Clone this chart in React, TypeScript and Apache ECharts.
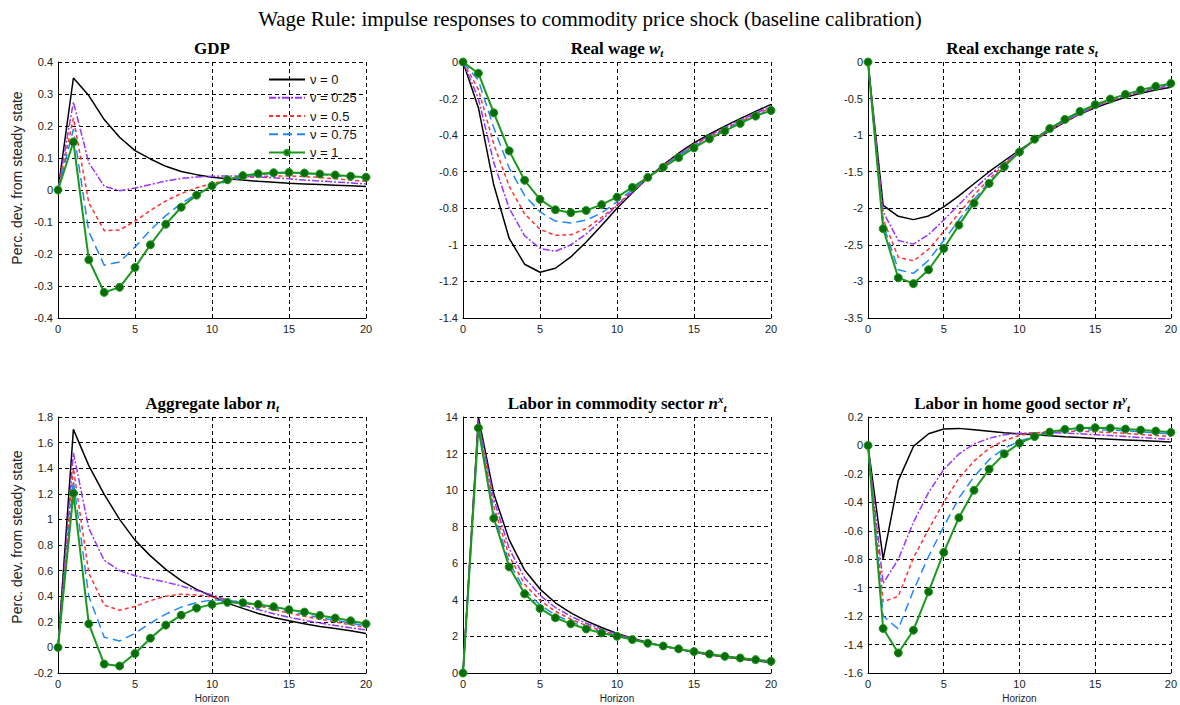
import React, { useEffect, useRef } from "react";
import * as echarts from "echarts";

const horizon = [0, 1, 2, 3, 4, 5, 6, 7, 8, 9, 10, 11, 12, 13, 14, 15, 16, 17, 18, 19, 20];
const nuLabels = ["ν = 0", "ν = 0.25", "ν = 0.5", "ν = 0.75", "ν = 1"];
const xTicks = { min: 0, max: 20, interval: 5 };

// GDP
const gdpNu0 = [0, 0.35, 0.295, 0.22, 0.165, 0.123, 0.097, 0.074, 0.058, 0.048, 0.04, 0.035, 0.031, 0.027, 0.024, 0.021, 0.019, 0.017, 0.015, 0.013, 0.011];
const gdpNu25 = [0, 0.275, 0.085, 0.012, -0.002, 0.006, 0.017, 0.028, 0.036, 0.041, 0.043, 0.044, 0.043, 0.041, 0.038, 0.035, 0.031, 0.028, 0.025, 0.022, 0.019];
const gdpNu50 = [0, 0.225, -0.04, -0.127, -0.125, -0.097, -0.064, -0.034, -0.011, 0.007, 0.02, 0.03, 0.038, 0.042, 0.044, 0.044, 0.042, 0.039, 0.035, 0.031, 0.027];
const gdpNu75 = [0, 0.19, -0.13, -0.235, -0.225, -0.178, -0.125, -0.08, -0.042, -0.013, 0.01, 0.028, 0.04, 0.048, 0.052, 0.053, 0.052, 0.049, 0.045, 0.041, 0.036];
const gdpNu100 = [0, 0.15, -0.218, -0.32, -0.304, -0.242, -0.171, -0.107, -0.054, -0.016, 0.013, 0.032, 0.045, 0.051, 0.054, 0.055, 0.053, 0.05, 0.047, 0.043, 0.04];

// Real wage
const wageNu0 = [0, -0.25, -0.673, -0.965, -1.106, -1.15, -1.128, -1.066, -0.984, -0.894, -0.8, -0.715, -0.634, -0.563, -0.499, -0.442, -0.395, -0.351, -0.31, -0.27, -0.232];
const wageNu25 = [0, -0.2, -0.55, -0.8, -0.95, -1.02, -1.035, -1.0, -0.94, -0.865, -0.785, -0.71, -0.635, -0.568, -0.506, -0.45, -0.402, -0.358, -0.318, -0.281, -0.243];
const wageNu50 = [0, -0.15, -0.45, -0.68, -0.83, -0.915, -0.948, -0.945, -0.91, -0.85, -0.78, -0.705, -0.633, -0.568, -0.508, -0.455, -0.408, -0.365, -0.325, -0.288, -0.25];
const wageNu75 = [0, -0.1, -0.36, -0.58, -0.73, -0.82, -0.87, -0.88, -0.865, -0.825, -0.765, -0.698, -0.632, -0.57, -0.512, -0.46, -0.413, -0.37, -0.331, -0.295, -0.258];
const wageNu100 = [0, -0.062, -0.278, -0.486, -0.647, -0.751, -0.808, -0.824, -0.812, -0.78, -0.739, -0.686, -0.631, -0.576, -0.523, -0.47, -0.42, -0.377, -0.336, -0.296, -0.265];

// Real exchange rate
const rerNu0 = [0, -1.96, -2.11, -2.155, -2.105, -1.98, -1.83, -1.665, -1.5, -1.35, -1.205, -1.07, -0.94, -0.82, -0.71, -0.625, -0.55, -0.483, -0.428, -0.382, -0.345];
const rerNu25 = [0, -2.05, -2.44, -2.49, -2.36, -2.16, -1.95, -1.74, -1.55, -1.38, -1.22, -1.07, -0.935, -0.815, -0.707, -0.613, -0.532, -0.465, -0.41, -0.365, -0.328];
const rerNu50 = [0, -2.15, -2.67, -2.72, -2.56, -2.32, -2.07, -1.82, -1.6, -1.4, -1.225, -1.07, -0.93, -0.81, -0.7, -0.605, -0.525, -0.458, -0.402, -0.356, -0.32];
const rerNu75 = [0, -2.22, -2.84, -2.89, -2.71, -2.44, -2.16, -1.88, -1.64, -1.42, -1.23, -1.065, -0.92, -0.798, -0.69, -0.597, -0.517, -0.45, -0.393, -0.345, -0.307];
const rerNu100 = [0, -2.28, -2.95, -3.03, -2.84, -2.55, -2.23, -1.93, -1.66, -1.43, -1.23, -1.055, -0.91, -0.785, -0.676, -0.584, -0.507, -0.443, -0.384, -0.333, -0.292];

// Aggregate labor
const labNu0 = [0, 1.703, 1.42, 1.195, 1.0, 0.838, 0.715, 0.61, 0.522, 0.453, 0.4, 0.346, 0.305, 0.265, 0.234, 0.208, 0.184, 0.163, 0.147, 0.13, 0.109];
const labNu25 = [0, 1.52, 0.93, 0.68, 0.6, 0.56, 0.535, 0.51, 0.48, 0.445, 0.41, 0.37, 0.33, 0.295, 0.263, 0.236, 0.212, 0.19, 0.171, 0.153, 0.136];
const labNu50 = [0, 1.4, 0.58, 0.33, 0.29, 0.32, 0.365, 0.4, 0.415, 0.41, 0.395, 0.37, 0.35, 0.325, 0.295, 0.268, 0.243, 0.22, 0.198, 0.176, 0.155];
const labNu75 = [0, 1.3, 0.4, 0.08, 0.05, 0.11, 0.19, 0.26, 0.315, 0.35, 0.37, 0.368, 0.352, 0.332, 0.305, 0.28, 0.256, 0.233, 0.211, 0.19, 0.168];
const labNu100 = [0, 1.204, 0.184, -0.13, -0.145, -0.048, 0.072, 0.174, 0.252, 0.307, 0.336, 0.352, 0.349, 0.336, 0.318, 0.294, 0.276, 0.25, 0.229, 0.208, 0.184];

// Labor in commodity sector
const comNu0 = [0, 14.0, 9.8, 7.28, 5.63, 4.59, 3.84, 3.29, 2.85, 2.49, 2.16, 1.9, 1.67, 1.47, 1.3, 1.14, 1.0, 0.88, 0.77, 0.67, 0.58];
const comNu25 = [0, 13.8, 9.5, 6.8, 5.2, 4.25, 3.58, 3.1, 2.72, 2.4, 2.12, 1.88, 1.66, 1.47, 1.3, 1.15, 1.01, 0.89, 0.79, 0.69, 0.6];
const comNu50 = [0, 13.7, 9.1, 6.4, 4.85, 3.97, 3.37, 2.94, 2.6, 2.31, 2.07, 1.86, 1.65, 1.47, 1.3, 1.15, 1.02, 0.9, 0.8, 0.7, 0.61];
const comNu75 = [0, 13.55, 8.75, 6.05, 4.55, 3.72, 3.17, 2.8, 2.5, 2.25, 2.04, 1.84, 1.64, 1.47, 1.31, 1.16, 1.03, 0.91, 0.81, 0.71, 0.62];
const comNu100 = [0, 13.4, 8.46, 5.8, 4.33, 3.53, 3.02, 2.69, 2.41, 2.19, 2.01, 1.83, 1.63, 1.48, 1.32, 1.17, 1.04, 0.91, 0.82, 0.73, 0.64];

// Labor in home good sector
const homeNu0 = [0, -0.8, -0.247, -0.007, 0.082, 0.115, 0.12, 0.11, 0.1, 0.09, 0.082, 0.075, 0.068, 0.061, 0.055, 0.049, 0.044, 0.039, 0.034, 0.029, 0.024];
const homeNu25 = [0, -0.97, -0.8, -0.54, -0.33, -0.17, -0.06, 0.01, 0.05, 0.075, 0.085, 0.09, 0.09, 0.087, 0.082, 0.076, 0.07, 0.063, 0.056, 0.049, 0.042];
const homeNu50 = [0, -1.1, -1.06, -0.79, -0.59, -0.4, -0.23, -0.11, -0.02, 0.035, 0.07, 0.088, 0.098, 0.1, 0.1, 0.096, 0.091, 0.085, 0.078, 0.07, 0.062];
const homeNu75 = [0, -1.2, -1.29, -1.02, -0.78, -0.57, -0.37, -0.22, -0.1, -0.02, 0.03, 0.065, 0.088, 0.102, 0.108, 0.11, 0.108, 0.103, 0.096, 0.088, 0.08];
const homeNu100 = [0, -1.287, -1.459, -1.299, -1.029, -0.752, -0.508, -0.315, -0.167, -0.059, 0.016, 0.063, 0.094, 0.113, 0.122, 0.125, 0.122, 0.115, 0.108, 0.101, 0.092];

// y-axis scales per panel
const yScales = [
  { min: -0.4, max: 0.4, interval: 0.1 },
  { min: -1.4, max: 0, interval: 0.2 },
  { min: -3.5, max: 0, interval: 0.5 },
  { min: -0.2, max: 1.8, interval: 0.2 },
  { min: 0, max: 14, interval: 2 },
  { min: -1.6, max: 0.2, interval: 0.2 },
];

const panelData = [
  [gdpNu0, gdpNu25, gdpNu50, gdpNu75, gdpNu100],
  [wageNu0, wageNu25, wageNu50, wageNu75, wageNu100],
  [rerNu0, rerNu25, rerNu50, rerNu75, rerNu100],
  [labNu0, labNu25, labNu50, labNu75, labNu100],
  [comNu0, comNu25, comNu50, comNu75, comNu100],
  [homeNu0, homeNu25, homeNu50, homeNu75, homeNu100],
];

const panelTitles = [
  "{b|GDP}",
  "{b|Real wage }{m|w}{sub|t}",
  "{b|Real exchange rate }{m|s}{sub|t}",
  "{b|Aggregate labor }{m|n}{sub|t}",
  "{b|Labor in commodity sector }{m|n}{sup|x}{sub|t}",
  "{b|Labor in home good sector }{m|n}{sup|y}{sub|t}",
];

const mainTitle = "Wage Rule: impulse responses to commodity price shock (baseline calibration)";
const yAxisName = "Perc. dev. from steady state";
const xAxisName = "Horizon";

const gridBoxes = [
  { left: 58, top: 62, width: 308, height: 256 },
  { left: 463, top: 62, width: 308, height: 256 },
  { left: 868, top: 62, width: 308, height: 256 },
  { left: 58, top: 417, width: 308, height: 256 },
  { left: 463, top: 417, width: 308, height: 256 },
  { left: 868, top: 417, width: 308, height: 256 },
];

const lineStyles: any[] = [
  { color: "#000000", type: "solid", width: 1.5 },
  { color: "#9933ff", type: [7, 2, 2, 2], width: 1.5 },
  { color: "#ff3333", type: [4, 3], width: 1.5 },
  { color: "#1e88ff", type: [9, 5], width: 1.5 },
  { color: "#1a9a1a", type: "solid", width: 2 },
];

const serifFont = "'Liberation Serif', 'DejaVu Serif', serif";
const sansFont = "'Liberation Sans', Arial, sans-serif";

export default function App() {
  const ref = useRef<HTMLDivElement>(null);

  useEffect(() => {
    if (!ref.current) return;
    const chart = echarts.init(ref.current, null, { renderer: "svg" });

    const titleRich = {
      b: { fontFamily: serifFont, fontWeight: "bold", fontSize: 17, lineHeight: 20, color: "#000" },
      m: { fontFamily: serifFont, fontWeight: "bold", fontStyle: "italic", fontSize: 17, lineHeight: 20, color: "#000" },
      sub: { fontFamily: serifFont, fontWeight: "bold", fontStyle: "italic", fontSize: 11, lineHeight: 11, verticalAlign: "bottom", color: "#000" },
      sup: { fontFamily: serifFont, fontWeight: "bold", fontStyle: "italic", fontSize: 11, lineHeight: 11, verticalAlign: "top", color: "#000" },
    };

    const titles: any[] = [
      {
        text: mainTitle,
        left: "center",
        top: 3,
        textStyle: { fontFamily: serifFont, fontWeight: "normal", fontSize: 21, color: "#000" },
      },
    ];
    gridBoxes.forEach((g, i) => {
      titles.push({
        text: panelTitles[i],
        left: g.left + g.width / 2,
        textAlign: "center",
        top: g.top - 24,
        padding: 0,
        textStyle: { rich: titleRich },
      });
    });

    const xAxes: any[] = [];
    const yAxes: any[] = [];
    const series: any[] = [];
    const axisLabel = { color: "#222", fontSize: 11, fontFamily: sansFont };
    const splitLine = { show: true, lineStyle: { color: "#000", type: [4, 3], width: 1 } };

    gridBoxes.forEach((g, i) => {
      xAxes.push({
        type: "value",
        gridIndex: i,
        ...xTicks,
        axisLine: { show: true, onZero: false, lineStyle: { color: "#000", width: 1 } },
        axisTick: { show: false },
        axisLabel: { ...axisLabel, margin: 5 },
        splitLine,
        name: i >= 3 ? xAxisName : "",
        nameLocation: "middle",
        nameGap: 20,
        nameTextStyle: { fontFamily: sansFont, fontSize: 10, color: "#222" },
      });
      yAxes.push({
        type: "value",
        gridIndex: i,
        ...yScales[i],
        axisLine: { show: true, onZero: false, lineStyle: { color: "#000", width: 1 } },
        axisTick: { show: false },
        axisLabel: { ...axisLabel, margin: 5 },
        splitLine,
        name: i % 3 === 0 ? yAxisName : "",
        nameLocation: "middle",
        nameGap: 34,
        nameTextStyle: {
          fontFamily: sansFont,
          fontSize: 14,
          color: "#222",
          padding: [0, 0, 0, i === 0 ? 24 : 16],
        },
      });
      panelData[i].forEach((vals, k) => {
        const isGreen = k === 4;
        series.push({
          type: "line",
          name: nuLabels[k],
          xAxisIndex: i,
          yAxisIndex: i,
          data: horizon.map((h, j) => [h, vals[j]]),
          lineStyle: lineStyles[k],
          itemStyle: isGreen
            ? { color: "#0b6b0b", borderColor: "#1a9a1a", borderWidth: 1 }
            : { color: lineStyles[k].color },
          symbol: isGreen ? "circle" : "none",
          symbolSize: 8,
          showSymbol: isGreen,
          z: 2 + k,
          silent: true,
        });
      });
    });

    const legendData = nuLabels.map((name, k) =>
      k === 4 ? { name } : { name, itemStyle: { opacity: 0 } }
    );

    chart.setOption({
      animation: false,
      backgroundColor: "#ffffff",
      title: titles,
      grid: gridBoxes.map((g) => ({ ...g, containLabel: false })),
      xAxis: xAxes,
      yAxis: yAxes,
      legend: {
        data: legendData,
        orient: "vertical",
        left: 268,
        top: 72,
        padding: 0,
        itemWidth: 36,
        itemHeight: 7,
        itemGap: 3.25,
        selectedMode: false,
        textStyle: { fontFamily: sansFont, fontSize: 13, color: "#111", lineHeight: 15 },
      },
      series,
    });

    return () => chart.dispose();
  }, []);

  return (
    <div
      ref={ref}
      style={{ position: "absolute", left: 0, top: 0, width: 1180, height: 705, background: "#fff" }}
    />
  );
}
